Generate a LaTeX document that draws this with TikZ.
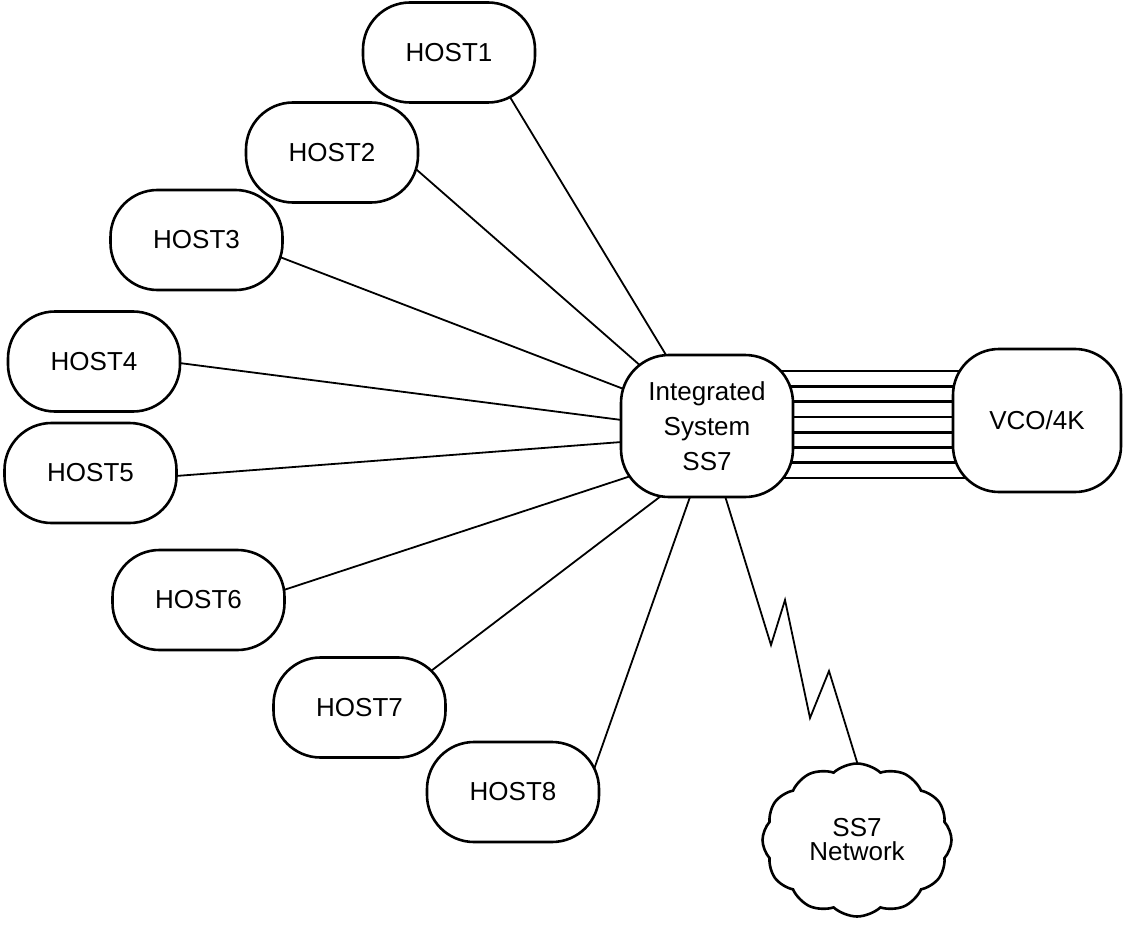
\documentclass[tikz,border=0pt]{standalone}
\usepackage{fontspec}
\setmainfont{Liberation Sans}
\usetikzlibrary{shapes.symbols,calc}
\pgfdeclarelayer{bg}
\pgfsetlayers{bg,main}
\begin{document}
\begin{tikzpicture}[x=1pt,y=-1pt,
  box/.style={draw,line width=2.6pt,fill=white,rounded corners=47pt,minimum width=172pt,minimum height=100pt,inner sep=0pt,align=center,font=\fontsize{26}{30}\selectfont},
  link/.style={line width=1.8pt},
  trunk/.style={line width=2.7pt}]
\useasboundingbox (0,0) rectangle (1123,925);
\node[box] (h1) at (449,52.5) {HOST1};
\node[box] (h2) at (332,152.5) {HOST2};
\node[box] (h3) at (196.5,240) {HOST3};
\node[box] (h4) at (94,361.5) {HOST4};
\node[box] (h5) at (90.5,473) {HOST5};
\node[box] (h6) at (198.5,600) {HOST6};
\node[box] (h7) at (359.5,707.5) {HOST7};
\node[box] (h8) at (513,792) {HOST8};
\node[box,rounded corners=48pt,minimum width=172pt,minimum height=142pt,font=\fontsize{26}{35}\selectfont] (is) at (707,426) {Integrated\\System\\SS7};
\node[box,rounded corners=46pt,minimum width=168pt,minimum height=143pt] (vco) at (1037,420.5) {VCO/4K};
\node[cloud,draw,line width=2.6pt,fill=white,cloud puffs=12,cloud puff arc=85,cloud ignores aspect,minimum width=189pt,minimum height=153pt,inner sep=0pt,align=center,font=\fontsize{26}{24}\selectfont] (net) at (857,840) {SS7\\Network};
\begin{pgfonlayer}{bg}
\draw[link] ($(h1.center)+(34,0)$) -- ($(is.center)+(2,0)$);
\draw[link] ($(h2.center)+(65,0)$) -- ($(is.center)+(0,-2)$);
\draw[link] ($(h3.center)+(0,-15)$) -- ($(is.center)+(0,-5)$);
\draw[link] ($(h4.center)+(0,-9.5)$) -- ($(is.center)+(0,5)$);
\draw[link] ($(h5.center)+(0,9.5)$) -- ($(is.center)+(0,9.5)$);
\draw[link] ($(h6.center)+(0,18)$) -- ($(is.center)+(0,25)$);
\draw[link] ($(h7.center)+(23.5,0)$) -- ($(is.center)+(46,0)$);
\draw[link] ($(h8.center)+(73,0)$) -- ($(is.center)+(8,0)$);
\foreach \k in {0,...,7} \draw[trunk] ($(is.center)+(0,-55+15.3*\k)$) coordinate (t) -- (t -| vco.center);
\draw[link] ($(is.center)+(10,44)$) -- (771,645) -- (785,600) -- (810,718) -- (829,671) -- ($(net.center)+(24,0)$);
\end{pgfonlayer}
\end{tikzpicture}
\end{document}
